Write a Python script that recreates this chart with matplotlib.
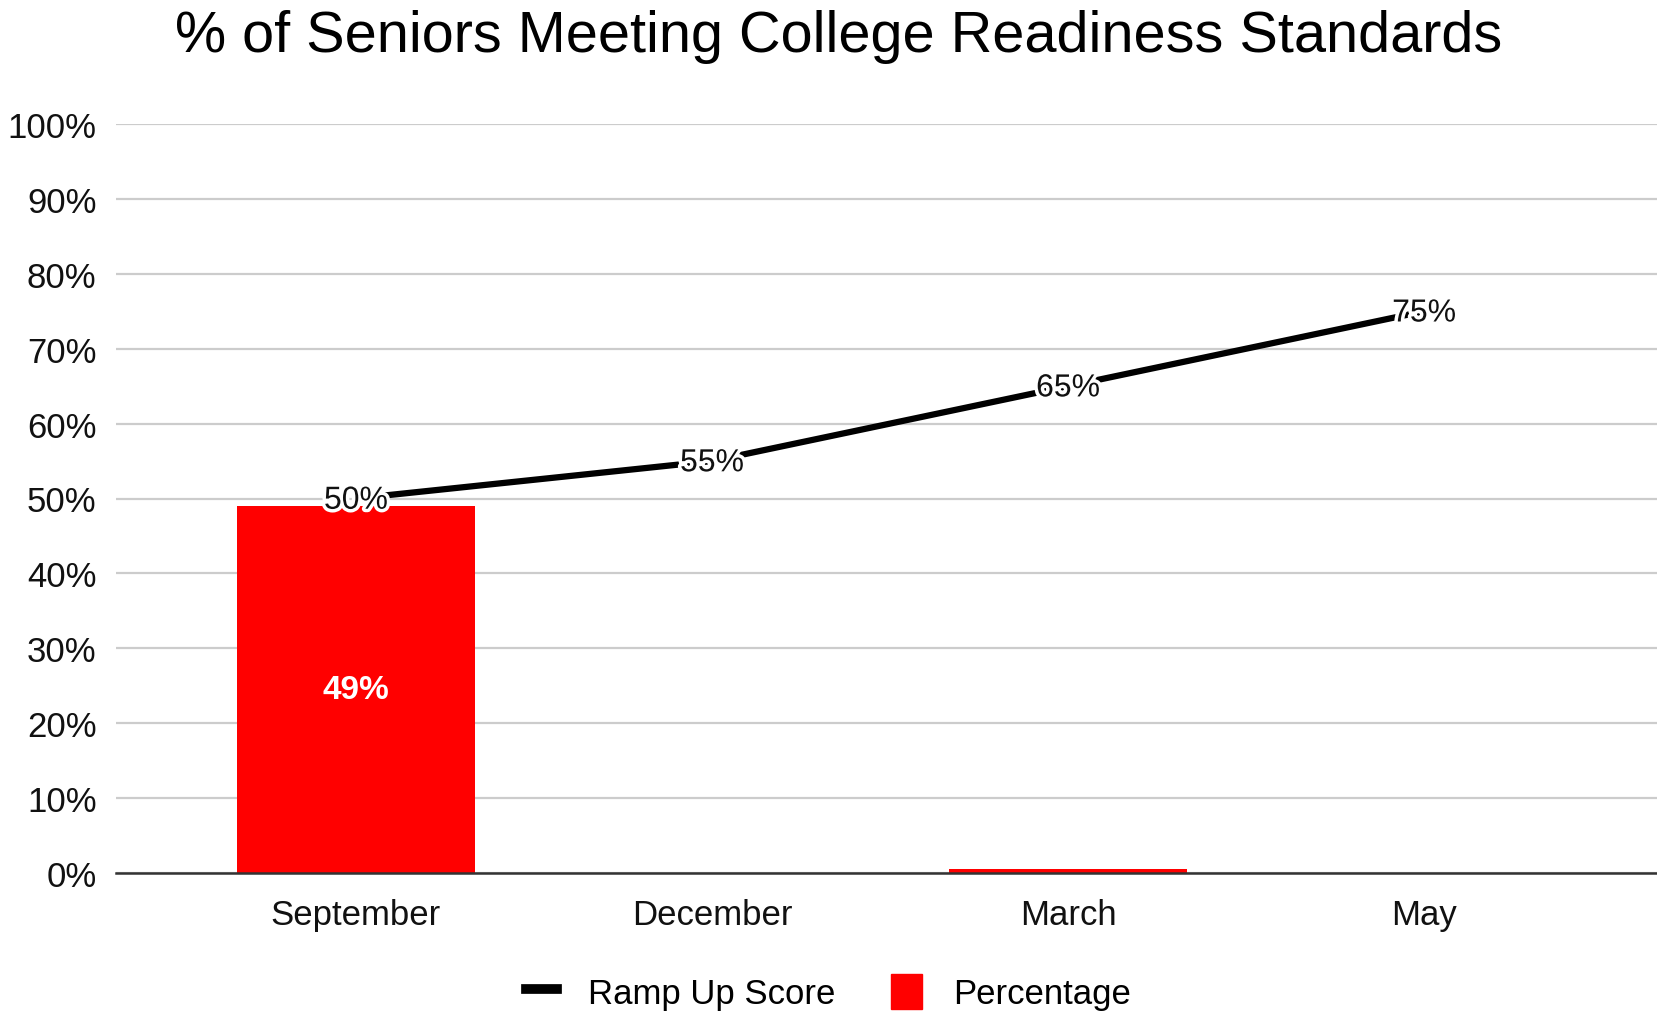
import matplotlib.pyplot as plt
import matplotlib.patheffects as pe
from matplotlib.lines import Line2D
from matplotlib.patches import Patch

plt.rcParams['font.family'] = ['Liberation Sans', 'DejaVu Sans']

months = ["September", "December", "March", "May"]
ramp_up = [50, 55, 65, 75]
percentage = [49, 0, 0.5, 0]
bar_labels = ["49%", "", "", ""]
y_ticks = list(range(0, 101, 10))

fig = plt.figure(figsize=(16.57, 10.12), dpi=100)
ax = fig.add_axes([116 / 1657, 1 - 874 / 1012, 1 - 116 / 1657, (874 - 125) / 1012])

x = range(len(months))
bars = ax.bar(x, percentage, width=0.67, color="#ff0000", zorder=2)
for b, lab in zip(bars, bar_labels):
    if lab:
        ax.text(b.get_x() + b.get_width() / 2, b.get_height() / 2, lab,
                ha="center", va="center", color="white", fontsize=24,
                fontweight="bold", zorder=4)

ax.plot(x, ramp_up, color="black", lw=4.5, zorder=3, solid_capstyle="butt")
for xi, v in zip(x, ramp_up):
    ax.text(xi, v - 0.3, f"{v}%", ha="center", va="center", fontsize=23, color="#111111",
            zorder=5, path_effects=[pe.withStroke(linewidth=5, foreground="white")])

ax.set_xlim(-0.674, 3.654)
ax.set_ylim(0, 100)
ax.set_yticks(y_ticks)
ax.set_yticklabels([f"{t}%" for t in y_ticks], fontsize=25, color="#111111")
ax.set_xticks(list(x))
ax.set_xticklabels(months, fontsize=25, color="#111111")
ax.tick_params(length=0, pad=14)
ax.tick_params(axis="x", pad=18)
ax.grid(axis="y", color="#cccccc", lw=1.6, zorder=0)
ax.set_axisbelow(True)
for s in ["top", "right", "left"]:
    ax.spines[s].set_visible(False)
ax.spines["bottom"].set_color("#333333")
ax.spines["bottom"].set_linewidth(1.8)
ax.spines["bottom"].set_zorder(3)

fig.text(0.506, 1 - 37 / 1012, "% of Seniors Meeting College Readiness Standards",
         ha="center", va="center", fontsize=41.5, color="#000000")

handles = [Line2D([0], [0], color="black", lw=7),
           Patch(facecolor="#ff0000", edgecolor="#ff0000")]
fig.legend(handles, ["Ramp Up Score", "Percentage"], loc="center",
           bbox_to_anchor=(0.5, 1 - 993 / 1012), ncol=2, frameon=False,
           fontsize=25, handlelength=0.9, handleheight=1.2, columnspacing=1.6,
           handletextpad=0.9)

fig.savefig("out.png", dpi=100)
